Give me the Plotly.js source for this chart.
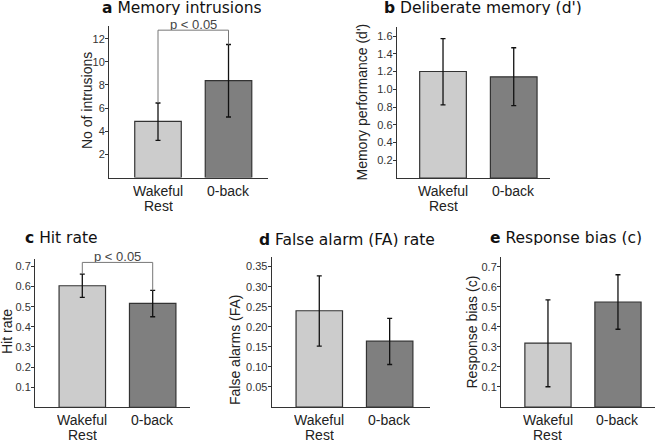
<!DOCTYPE html>
<html><head><meta charset="utf-8">
<script src="https://cdn.plot.ly/plotly-3.0.1.min.js"></script>
<style>html,body{margin:0;padding:0;background:#fff}#chart{width:658px;height:441px}</style>
</head><body><div id="chart"></div>
<script>
// ---- data ----
const categories = ["Wakeful<br>Rest", "0-back"];
const barColors = ["#cccccc", "#7f7f7f"];

const intrusionsMean  = [4.85, 8.38];
const intrusionsUpper = [6.44, 11.5];
const intrusionsLower = [3.21, 5.23];

const dprimeMean  = [1.20, 1.14];
const dprimeUpper = [1.57, 1.468];
const dprimeLower = [0.823, 0.815];

const hitMean  = [0.604, 0.516];
const hitUpper = [0.662, 0.581];
const hitLower = [0.546, 0.450];

const faMean  = [0.240, 0.164];
const faUpper = [0.327, 0.221];
const faLower = [0.152, 0.106];

const biasMean  = [0.319, 0.524];
const biasUpper = [0.535, 0.660];
const biasLower = [0.101, 0.388];

const ticksA = [2, 4, 6, 8, 10, 12];
const ticksB = [0.2, 0.4, 0.6, 0.8, 1.0, 1.2, 1.4, 1.6];
const ticksC = [0.1, 0.2, 0.3, 0.4, 0.5, 0.6, 0.7];
const ticksD = [0.05, 0.10, 0.15, 0.20, 0.25, 0.30, 0.35];
const ticksE = [0.1, 0.2, 0.3, 0.4, 0.5, 0.6, 0.7];

const sigLabel = "p < 0.05";
const bracketLevelA = 12.74;
const bracketLevelC = 0.72;

// ---- layout helpers ----
const W = 658, H = 441;
const fx = p => p / W;
const fy = p => 1 - p / H;
const TITLE_FONT = "'DejaVu Sans', Verdana, sans-serif";
const BODY_FONT = "'Liberation Sans', Arial, sans-serif";

const panels = [
  {mean: intrusionsMean, up: intrusionsUpper, lo: intrusionsLower, ticks: ticksA, fmt: "d",
   xd: [109, 268], yd: [26, 177.5], xr: [-0.695, 1.56], yr: [0, 13.1],
   letter: "a", title: "Memory intrusions", tx: 182.5, ty: 8,
   ytitle: "No of intrusions", ytx: 87, yty: 101, bracket: bracketLevelA, labY: [-12.5, -27.5]},
  {mean: dprimeMean, up: dprimeUpper, lo: dprimeLower, ticks: ticksB, fmt: ".1f",
   xd: [396.7, 550], yd: [26.7, 178], xr: [-0.655, 1.513], yr: [0, 1.705],
   letter: "b", title: "Deliberate memory (d')", tx: 483, ty: 8,
   ytitle: "Memory performance (d')", ytx: 361.5, yty: 102, labY: [-12.5, -27.5]},
  {mean: hitMean, up: hitUpper, lo: hitLower, ticks: ticksC, fmt: ".1f",
   xd: [35, 190], yd: [259, 407.3], xr: [-0.672, 1.53], yr: [0, 0.737],
   letter: "c", title: "Hit rate", tx: 61, ty: 237,
   ytitle: "Hit rate", ytx: 7, yty: 332, bracket: bracketLevelC, labY: [-12.5, -27]},
  {mean: faMean, up: faUpper, lo: faLower, ticks: ticksD, fmt: ".2f",
   xd: [271.7, 430], yd: [257, 407], xr: [-0.676, 1.573], yr: [0, 0.374],
   letter: "d", title: "False alarm (FA) rate", tx: 346.7, ty: 239,
   ytitle: "False alarms (FA)", ytx: 235, yty: 350, labY: [-12.5, -27]},
  {mean: biasMean, up: biasUpper, lo: biasLower, ticks: ticksE, fmt: ".1f",
   xd: [501, 655], yd: [256.7, 407], xr: [-0.671, 1.529], yr: [0, 0.75],
   letter: "e", title: "Response bias (c)", tx: 565.8, ty: 237,
   ytitle: "Response bias (c)", ytx: 471.5, yty: 332, labY: [-12.5, -27]}
];

const data = [];
const layout = {
  width: W, height: H, margin: {l: 0, r: 0, t: 0, b: 0},
  paper_bgcolor: "#fff", plot_bgcolor: "#fff", showlegend: false,
  font: {family: BODY_FONT, color: "#333"},
  annotations: []
};

panels.forEach((p, i) => {
  const n = i === 0 ? "" : String(i + 1);
  const xa = "x" + n, ya = "y" + n;
  data.push({
    type: "bar", x: categories, y: p.mean, xaxis: xa, yaxis: ya, width: 0.66,
    marker: {color: barColors, line: {color: "#333", width: 1.2}},
    error_y: {type: "data", symmetric: false,
      array: p.up.map((u, k) => u - p.mean[k]),
      arrayminus: p.mean.map((m, k) => m - p.lo[k]),
      color: "#111", thickness: 1.3, width: 2.5},
    hoverinfo: "skip"
  });
  if (p.bracket !== undefined) {
    data.push({
      type: "scatter", mode: "lines", xaxis: xa, yaxis: ya,
      x: [categories[0], categories[0], categories[1], categories[1]],
      y: [p.up[0], p.bracket, p.bracket, p.up[1]],
      line: {color: "#777", width: 1}, cliponaxis: false, hoverinfo: "skip"
    });
    layout.annotations.push({
      xref: xa, yref: ya, x: 0.5, y: p.bracket, yanchor: "middle", yshift: 6,
      height: 12, borderpad: 0,
      text: sigLabel, showarrow: false, font: {family: BODY_FONT, size: 13, color: "#444"}
    });
  }
  // category labels, one line each, under the axis
  categories.forEach(c => {
    c.split("<br>").forEach((line, li) => {
      layout.annotations.push({
        xref: xa, yref: ya, x: c, y: 0, yanchor: "middle", yshift: p.labY[li],
        height: 13, borderpad: 0,
        text: line, showarrow: false, font: {family: BODY_FONT, size: 14, color: "#222"}
      });
    });
  });
  layout["xaxis" + n] = {
    domain: [fx(p.xd[0]), fx(p.xd[1])], anchor: ya, type: "category", range: p.xr,
    showline: true, linecolor: "#333", linewidth: 1, ticks: "", showgrid: false,
    showticklabels: false, fixedrange: true
  };
  layout["yaxis" + n] = {
    domain: [fy(p.yd[1]), fy(p.yd[0])], anchor: xa, range: p.yr,
    tickmode: "array", tickvals: p.ticks, tickformat: p.fmt,
    showline: true, linecolor: "#333", linewidth: 1, ticks: "outside", ticklen: 3, tickcolor: "#333",
    ticklabelstandoff: -2,
    showgrid: false, zeroline: false, tickfont: {size: 11, color: "#333"}, fixedrange: true
  };
  layout.annotations.push({
    xref: "paper", yref: "paper", x: fx(p.ytx), y: fy(p.yty), xanchor: "center", yanchor: "middle",
    textangle: -90, text: p.ytitle, showarrow: false, borderpad: 0,
    font: {family: BODY_FONT, size: 14, color: "#222"}
  });
  layout.annotations.push({
    xref: "paper", yref: "paper", x: fx(p.tx), y: fy(p.ty), xanchor: "center", yanchor: "middle",
    text: "<b>" + p.letter + "</b> " + p.title, showarrow: false, borderpad: 0, height: 15,
    font: {family: TITLE_FONT, size: 15.5, color: "#111", weight: "normal"}
  });
});

Plotly.newPlot("chart", data, layout, {staticPlot: true, displayModeBar: false});
</script>
</body></html>
